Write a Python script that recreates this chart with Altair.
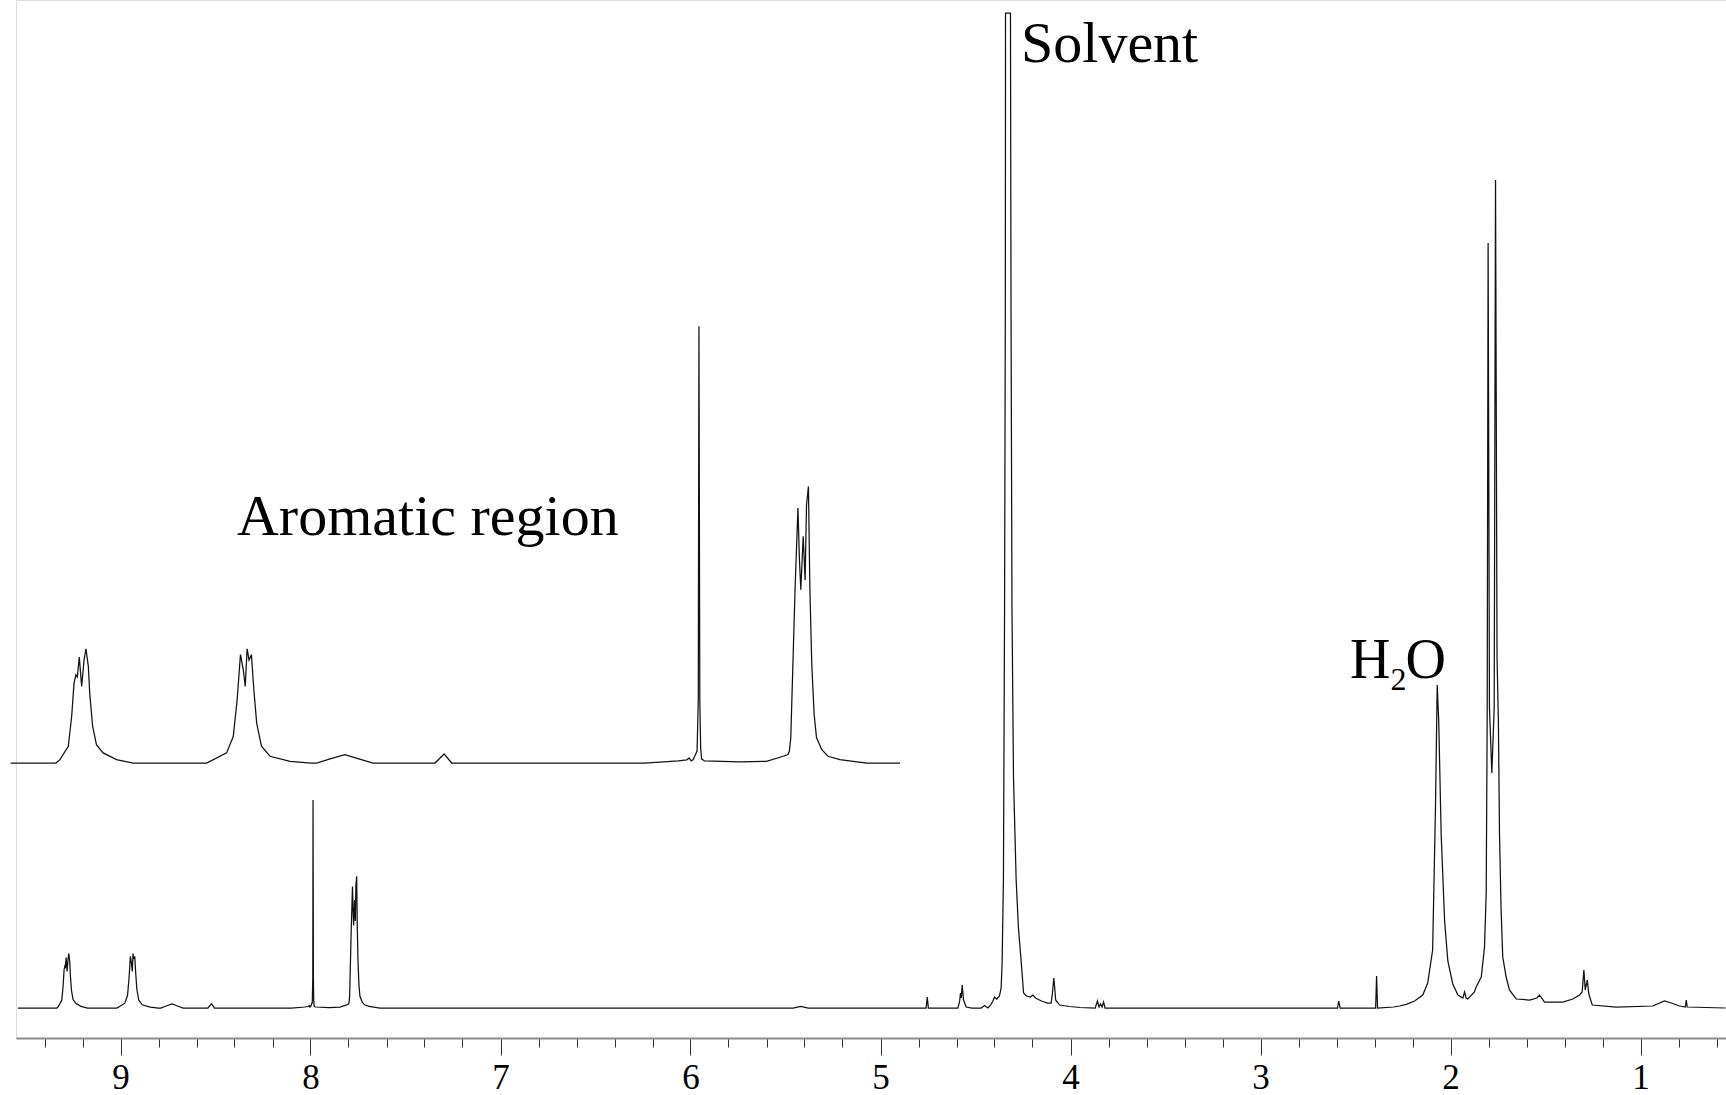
import altair as alt
import pandas as pd

# 1H NMR trace, chemical shift (ppm) vs intensity (arbitrary units, baseline = 0)
# Aromatic part (also shown expanded in the inset)
aromatic_ppm = [
    9.54, 9.43, 9.335, 9.3265, 9.309, 9.302, 9.297, 9.293, 9.290, 9.286, 9.281,
    9.276, 9.272, 9.267, 9.264, 9.258, 9.250, 9.236, 9.208, 9.173,
    9.019, 8.977, 8.963, 8.955, 8.948, 8.942, 8.938, 8.934, 8.930, 8.925, 8.920,
    8.914, 8.904, 8.886, 8.844, 8.800,
    8.788, 8.760, 8.729, 8.700, 8.670,
    8.540, 8.521, 8.505,
    8.100, 8.030, 8.012, 8.007, 8.003, 7.999, 7.9905, 7.9880, 7.9866, 7.9848,
    7.9830, 7.9810, 7.975,
    7.900, 7.845, 7.810, 7.800, 7.797, 7.794, 7.790, 7.785, 7.779, 7.776, 7.773,
    7.768, 7.764, 7.761, 7.757, 7.754, 7.750, 7.745, 7.740, 7.729, 7.716, 7.691,
    7.635, 7.565,
]
aromatic_int = [
    0, 0, 0, 1.6, 7.9, 22, 38, 42, 41, 50.5, 36.5,
    49, 54.4, 46, 33, 17.5, 8.7, 4.8, 1.6, 0,
    0, 4.8, 12.7, 30, 51.6, 44.4, 36.5, 54.4, 49, 51.6, 35,
    19, 8, 3.2, 0.8, 0,
    0, 2, 4, 2, 0,
    0, 4.3, 0,
    0, 1, 1.5, 2.4, 1, 1.5, 5.7, 30, 208, 30,
    7, 2, 1,
    0.5, 0.8, 3.2, 4, 5.6, 12, 43.7, 83, 121.4, 97.6, 82.5,
    108, 87, 123, 131.7, 83, 47, 23, 12, 6.3, 3.2, 1.6,
    0, 0,
]

# Aliphatic part, solvent and water
aliphatic_ppm = [
    7.50, 5.46, 5.42, 5.38,
    4.760, 4.754, 4.748,
    4.593, 4.584, 4.579, 4.575, 4.570, 4.563, 4.549, 4.520,
    4.470, 4.453, 4.435,
    4.420, 4.409, 4.400, 4.388, 4.374, 4.365, 4.360, 4.353, 4.347, 4.343, 4.342,
    4.316, 4.313, 4.308, 4.300, 4.286, 4.274, 4.259, 4.247, 4.232, 4.211, 4.198,
    4.184, 4.153, 4.121, 4.102, 4.095, 4.088, 4.083, 4.078, 4.058, 4.005, 3.950,
    3.870, 3.858, 3.850, 3.842, 3.834, 3.826, 3.818,
    2.595, 2.588, 2.581,
    2.394, 2.389, 2.384,
    2.300, 2.268, 2.233, 2.189, 2.146, 2.120, 2.094, 2.079, 2.070, 2.062, 2.049,
    2.031, 2.014, 1.988, 1.961, 1.935, 1.926, 1.918, 1.909, 1.874, 1.865, 1.838,
    1.821, 1.812, 1.807, 1.802, 1.795, 1.7825, 1.770, 1.763, 1.755, 1.748, 1.742,
    1.734, 1.725, 1.707, 1.690, 1.654, 1.584, 1.545, 1.532, 1.505, 1.409, 1.356,
    1.321, 1.307, 1.298, 1.291, 1.280, 1.272, 1.254, 1.128, 0.935, 0.874, 0.838,
    0.795, 0.764, 0.759, 0.754, 0.553,
]
aliphatic_int = [
    0, 0, 1.5, 0,
    0, 11, 0,
    0, 6, 15, 10, 23, 8, 1, 0,
    0, 2.5, 0,
    3, 6.7, 11, 9, 12, 20, 45, 128, 400, 700, 995,
    995, 700, 400, 230, 128, 80, 45, 15, 12, 11, 13,
    10, 7, 5, 5, 15, 30, 20, 8, 3, 1.5, 0.5,
    0, 7, 1, 4, 1, 6, 0,
    0, 7, 0,
    0, 32, 0,
    1, 2, 3.7, 7, 13, 25, 58, 201, 323, 287, 173,
    87, 47, 24, 13, 10, 16, 10, 9, 16, 21, 31,
    61, 116, 287, 765, 300, 235, 300, 828, 350, 287, 173,
    100, 51, 31, 18, 9, 8, 10, 13, 6, 6, 9,
    13, 16, 38, 18, 28, 14, 3, 1, 2, 7, 5,
    2, 1, 8, 1, 0,
]

# Axis ticks
major_ticks = [9, 8, 7, 6, 5, 4, 3, 2, 1]
minor_ticks = [round(9.4 - 0.2 * i, 1) for i in range(45)]

# Peak labels: text, position (ppm, intensity), font size
label_text = ["Solvent", "Aromatic region", "H", "2", "O"]
label_ppm = [4.2605, 8.387, 2.529, 2.316, 2.237]
label_int = [946, 473, 330, 318, 330]
label_size = [58, 58, 56, 32, 56]

spectrum = pd.DataFrame({
    "ppm": aromatic_ppm + aliphatic_ppm,
    "intensity": aromatic_int + aliphatic_int,
})
inset = pd.DataFrame({"ppm": aromatic_ppm, "intensity": aromatic_int})
labels = pd.DataFrame({
    "text": label_text, "ppm": label_ppm, "intensity": label_int, "size": label_size,
})

FONT = "Liberation Serif"
x_main = alt.Scale(domain=[0.55, 9.55], reverse=True, nice=False, zero=False)
y_main = alt.Scale(domain=[-30, 1008], nice=False, zero=False)

is_major = "abs(datum.value - round(datum.value)) < 0.001"

main_line = alt.Chart(spectrum).mark_line(
    color="#111111", strokeWidth=1.25, interpolate="linear"
).encode(
    x=alt.X(
        "ppm:Q",
        scale=x_main,
        axis=alt.Axis(
            values=minor_ticks,
            title=None,
            grid=False,
            domainColor="#8a8a8a",
            domainWidth=2,
            tickColor="#333333",
            tickWidth=1,
            tickSize={"condition": {"test": is_major, "value": 17}, "value": 9},
            labelExpr=f"{is_major} ? format(datum.value, 'd') : ''",
            labelFont=FONT,
            labelFontSize=35,
            labelColor="#000000",
            labelBaseline="alphabetic",
            labelPadding=33,
            labelFlush=False,
            labelOverlap=False,
        ),
    ),
    y=alt.Y("intensity:Q", scale=y_main, axis=None),
)

# Expanded aromatic region drawn above the main trace
inset_line = alt.Chart(inset).transform_filter(
    "datum.ppm >= 7.565 && datum.ppm <= 9.43"
).mark_line(color="#111111", strokeWidth=1.25).encode(
    x=alt.X("ppm:Q", scale=alt.Scale(domain=[7.565, 9.43], range=[884, -5.4],
                                     nice=False, zero=False), axis=None),
    y=alt.Y("intensity:Q", scale=alt.Scale(domain=[0, 100], range=[763, 553],
                                           nice=False, zero=False), axis=None),
)

text_layer = alt.Chart(labels).mark_text(
    font=FONT, align="left", baseline="alphabetic", color="#000000"
).encode(
    x=alt.X("ppm:Q", scale=x_main, axis=None),
    y=alt.Y("intensity:Q", scale=y_main, axis=None),
    text="text:N",
    size=alt.Size("size:Q", scale=None, legend=None),
)

chart = alt.layer(main_line, inset_line, text_layer).resolve_scale(
    x="independent", y="independent"
).properties(
    width=1710,
    height=1038,
    autosize=alt.AutoSizeParams(type="none"),
    padding={"left": 16, "top": 0, "right": 0, "bottom": 57},
).configure_view(stroke=None).configure(background="white")

chart.save("out.html", embed_options={"renderer": "svg", "actions": False})
